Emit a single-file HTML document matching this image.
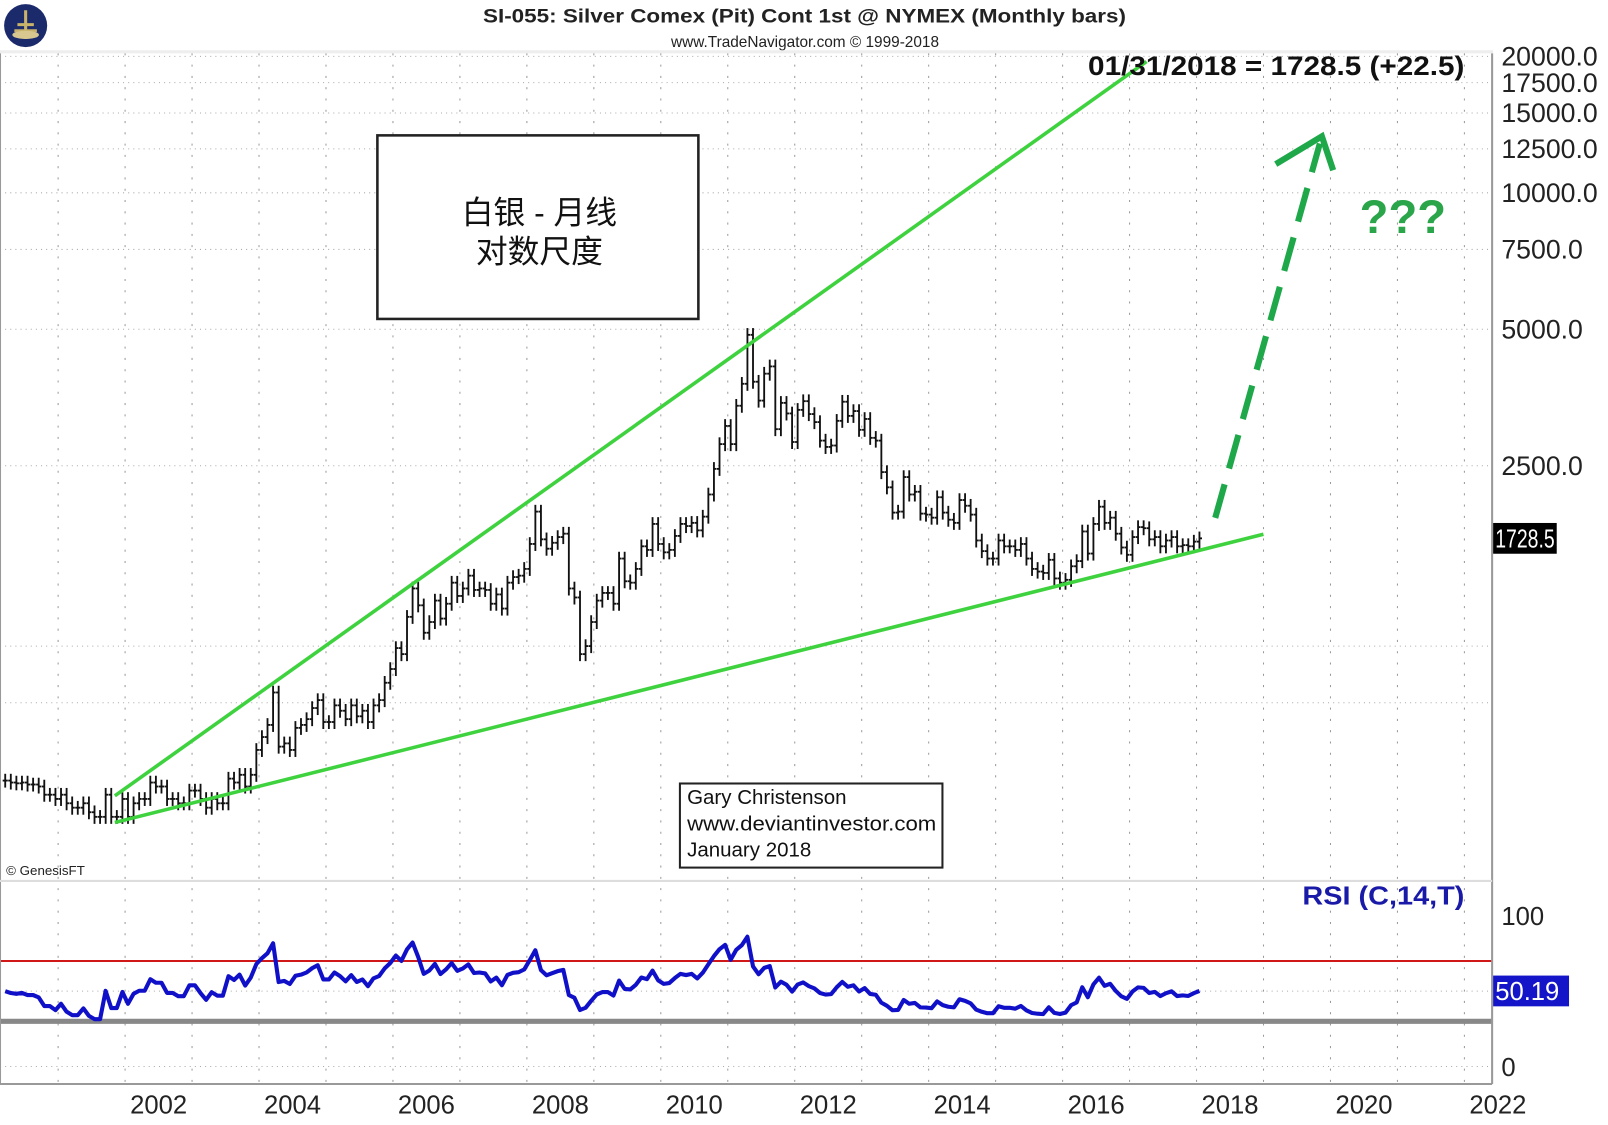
<!DOCTYPE html>
<html><head><meta charset="utf-8"><style>
html,body{margin:0;padding:0;background:#fff}
svg{display:block}
text{font-family:"Liberation Sans","Noto Sans CJK SC",sans-serif}
</style></head><body>
<svg id="chart" width="1608" height="1125" viewBox="0 0 1568 1097" xmlns="http://www.w3.org/2000/svg">
<rect x="0" y="0" width="1568" height="1097" fill="#fff"/>
<g>
<circle cx="25" cy="25" r="21" fill="#1b2a6b"/>
<path d="M25 10 L25 38 M14 30 L36 30 M17 24 L33 24" stroke="#c9b26a" stroke-width="3"/>
<ellipse cx="25" cy="34" rx="13" ry="4" fill="#d8c890"/>
</g>
<text x="471" y="22" font-size="19" font-weight="bold" textLength="627" lengthAdjust="spacingAndGlyphs" fill="#222">SI-055:  Silver Comex (Pit) Cont 1st @ NYMEX  (Monthly bars)</text>
<text x="785" y="46" font-size="15" text-anchor="middle" fill="#222">www.TradeNavigator.com © 1999-2018</text>
<rect x="0" y="49" width="1456" height="3" fill="#eee"/>
<g id="grid"></g>
<g id="bars"></g>
<g id="rsi"></g>
<g id="axes"></g>
<line x1="112" y1="776" x2="1118" y2="60" stroke="#3fd23f" stroke-width="3.5"/>
<line x1="112" y1="802" x2="1232" y2="521" stroke="#3fd23f" stroke-width="3.5"/>
<g stroke="#1ea84a" stroke-width="6" fill="none">
<line x1="1185" y1="505" x2="1287" y2="140" stroke-dasharray="34,16"/>
<polyline points="1244,160 1289,133 1300,166"/>
</g>
<text x="1368" y="227" font-size="46" font-weight="bold" fill="#2aa54a" text-anchor="middle">???</text>
<g>
<rect x="368" y="132" width="313" height="179" fill="#fff" stroke="#222" stroke-width="2.5"/>
<text x="526" y="218" font-size="31" text-anchor="middle" fill="#111">白银 - 月线</text>
<text x="526" y="256" font-size="31" text-anchor="middle" fill="#111">对数尺度</text>
</g>
<g>
<rect x="663" y="764" width="256" height="82" fill="#fff" stroke="#222" stroke-width="2"/>
<text x="670" y="784" font-size="20" fill="#111">Gary Christenson</text>
<text x="670" y="810" font-size="20" fill="#111" textLength="243" lengthAdjust="spacingAndGlyphs">www.deviantinvestor.com</text>
<text x="670" y="835" font-size="20" fill="#111">January 2018</text>
</g>
<text x="1061" y="73" font-size="26" font-weight="bold" textLength="367" lengthAdjust="spacingAndGlyphs" fill="#111">01/31/2018 = 1728.5 (+22.5)</text>
<text x="6" y="853" font-size="13" fill="#222">© GenesisFT</text>
<text x="1270" y="882" font-size="25" font-weight="bold" textLength="158" lengthAdjust="spacingAndGlyphs" fill="#1a1aa8">RSI (C,14,T)</text>
</svg>
<script>
const startYear = 2000.21;
const closes = [
505,500,498,500,495,495,490,470,470,460,
470,450,440,440,450,430,420,420,470,420,420,460,
420,450,460,460,500,490,490,460,460,450,450,480,
480,460,440,460,450,450,510,500,520,490,520,590,
630,670,790,600,610,590,660,670,690,730,760,680,
680,740,720,690,740,700,720,680,740,760,830,890,
990,960,1160,1340,1230,1070,1130,1260,1150,1240,1380,1290,
1340,1430,1330,1340,1330,1240,1300,1210,1380,1420,1430,1480,
1680,1980,1720,1640,1690,1740,1770,1340,1280,960,1000,1130,
1260,1310,1310,1240,1560,1390,1380,1480,1660,1630,1860,1680,
1610,1630,1750,1860,1840,1870,1800,1930,2160,2460,2790,3060,
2790,3390,3790,4860,3830,3480,3990,4140,3010,3440,3260,2820,
3320,3470,3250,3120,2840,2750,2770,3140,3460,3220,3300,3000,
3170,2880,2840,2420,2240,1970,1980,2360,2160,2190,1960,1950,
1920,2130,1970,1900,1870,2100,2040,1950,1710,1620,1560,1560,
1710,1660,1660,1630,1680,1560,1480,1460,1450,1550,1410,1380,
1400,1500,1540,1790,1600,1860,2030,1870,1920,1770,1650,1590,
1740,1830,1820,1720,1740,1660,1710,1740,1660,1670,1660,1700,
1728.5];
const yearTicks = [2002,2004,2006,2008,2010,2012,2014,2016,2018,2020,2022];
const priceTicks = [20000,17500,15000,12500,10000,7500,5000,2500];
const rsiTicks = [100,0];
const lastPrice = 1728.5;

const NS="http://www.w3.org/2000/svg";
const PX_PER_YEAR=65.3;
function xScale(t){return 1172+(t-2018.08)*PX_PER_YEAR;}
function yPrice(p){return 188-442*Math.log10(p/10000);}
function yRsi(v){return 1040-1.47*v;}
function mk(tag,attrs,parent){const e=document.createElementNS(NS,tag);for(const k in attrs)e.setAttribute(k,attrs[k]);parent.appendChild(e);return e;}
const grid=document.getElementById('grid'),bars=document.getElementById('bars'),rsiG=document.getElementById('rsi'),axes=document.getElementById('axes');

for(let y=2000;y<=2022;y++){
  const x=xScale(y); if(x<2||x>1455)continue;
  const l=mk('line',{x1:x,y1:52,x2:x,y2:1057,stroke:'#999','stroke-width':1,'stroke-dasharray':'2,9'},grid);
  
  
}
priceTicks.forEach(p=>{
  const y=yPrice(p);
  const l=mk('line',{x1:0,y1:y,x2:1455,y2:y,stroke:'#aaa','stroke-width':1,'stroke-dasharray':'1,4'},grid);
  
  
  const t=mk('text',{x:1464,y:y+9,'font-size':26,fill:'#222'},axes);
  t.textContent=p.toFixed(1);
  
  
});
[1000,750].forEach(p=>{const y=yPrice(p);const l=mk('line',{x1:0,y1:y,x2:1455,y2:y,stroke:'#aaa','stroke-width':1,'stroke-dasharray':'1,4'},grid);
  
  });
[50,0].forEach(v=>{const y=yRsi(v);const l=mk('line',{x1:0,y1:y,x2:1455,y2:y,stroke:'#aaa','stroke-width':1,'stroke-dasharray':'1,4'},grid);
  
  });

let prev=closes[0];
closes.forEach((c,i)=>{
  const x=xScale(startYear+i/12);
  const o=prev;
  const hi=Math.max(o,c)*1.035, lo=Math.min(o,c)*0.965;
  const g=mk('g',{stroke:'#111','stroke-width':1.8},bars);
  
  
  mk('line',{x1:x,y1:yPrice(hi),x2:x,y2:yPrice(lo)},g);
  mk('line',{x1:x-2.5,y1:yPrice(o),x2:x,y2:yPrice(o)},g);
  mk('line',{x1:x,y1:yPrice(c),x2:x+2.5,y2:yPrice(c)},g);
  prev=c;
});

const rl=mk('line',{x1:0,y1:yRsi(70),x2:1455,y2:yRsi(70),stroke:'#d01818','stroke-width':2},rsiG);


const gl=mk('line',{x1:0,y1:yRsi(30),x2:1455,y2:yRsi(30),stroke:'#888','stroke-width':5},rsiG);


let ag=closes[0]*0.015,al=closes[0]*0.015;const rsiVals=[50];
for(let i=1;i<closes.length;i++){const d=closes[i]-closes[i-1];ag=(ag*13+Math.max(d,0))/14;al=(al*13+Math.max(-d,0))/14;rsiVals.push(100-100/(1+ag/al));}
const pts=rsiVals.map((v,i)=>xScale(startYear+i/12).toFixed(1)+','+yRsi(v).toFixed(1)).join(' ');
const rp=mk('polyline',{points:pts,fill:'none',stroke:'#1010c8','stroke-width':4,'stroke-linejoin':'round'},rsiG);



[[0,52,0,1057],[1455,52,1455,1057],[0,1057,1455,1057]].forEach(a=>{const l=mk('line',{x1:a[0],y1:a[1],x2:a[2],y2:a[3],stroke:'#999','stroke-width':2},axes);
  
  });
const sep=mk('line',{x1:0,y1:859,x2:1455,y2:859,stroke:'#ddd','stroke-width':2},axes);


yearTicks.forEach(yr=>{
  const t=mk('text',{x:xScale(yr+0.5),y:1086,'font-size':25,'text-anchor':'middle',fill:'#222'},axes);
  t.textContent=yr;
  
  
});
rsiTicks.forEach(v=>{
  const t=mk('text',{x:1464,y:yRsi(v)+9,'font-size':25,fill:'#222'},axes);
  t.textContent=v;
  
  
});
const yp=yPrice(lastPrice);
const pb=mk('rect',{x:1456,y:yp-15,width:62,height:30,fill:'#000'},axes);


const pt=mk('text',{x:1458,y:yp+9,'font-size':25,fill:'#fff',textLength:58,lengthAdjust:'spacingAndGlyphs'},axes);pt.textContent=lastPrice.toFixed(1);


const lr=rsiVals[rsiVals.length-1];const yr2=yRsi(lr);
const rb=mk('rect',{x:1456,y:yr2-15,width:74,height:30,fill:'#1414c8'},axes);


const rt=mk('text',{x:1458,y:yr2+9,'font-size':25,fill:'#fff'},axes);rt.textContent='50.19';


</script>
</body></html>
